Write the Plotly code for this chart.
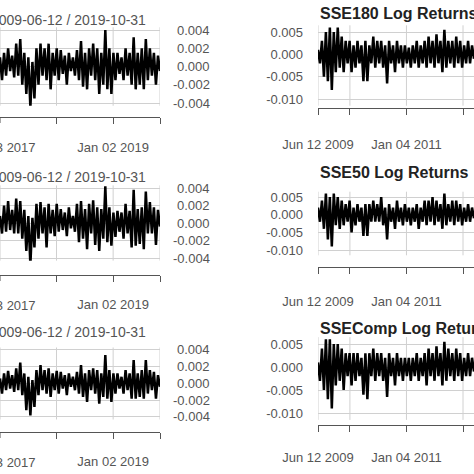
import plotly.graph_objects as go
import pandas as pd

left_title = "2009-06-12 / 2019-10-31"
right_titles = ["SSE180 Log Returns", "SSE50 Log Returns", "SSEComp Log Returns"]
left_yticks = [0.004, 0.002, 0.0, -0.002, -0.004]
left_yticklabels = ["0.004", "0.002", "0.000", "-0.002", "-0.004"]
right_yticks = [0.005, 0.0, -0.005, -0.010]
right_yticklabels = ["0.005", "0.000", "-0.005", "-0.010"]
left_xticks = ["2017-01-03", "2018-01-02", "2019-01-02", "2019-10-31"]
left_xticklabels = ["Jan 03 2017", "", "Jan 02 2019", ""]
right_xticks = ["2009-06-12", "2010-01-04", "2011-01-04", "2012-01-04"]
right_xticklabels = ["Jun 12 2009", "", "Jan 04 2011", ""]

left1 = [0.001,-0.0015,0.0015,-0.001,0.002,-0.0005,0.0012,-0.0012,0.0025,-0.001,0.003,-0.002,0.0015,-0.003,0.001,-0.0045,0.0005,-0.0035,0.002,-0.002,0.0025,-0.001,0.002,-0.0015,0.0025,-0.0025,0.0015,-0.001,0.002,-0.0015,0.0018,-0.0008,0.0012,-0.002,0.0015,-0.0005,0.001,-0.001,0.0018,-0.0015,0.0028,-0.0022,0.0015,-0.0025,0.002,-0.001,0.0025,-0.0015,0.002,-0.003,0.0015,-0.002,0.004,-0.0025,0.002,-0.003,0.0015,-0.0015,0.0015,-0.0008,0.001,-0.0015,0.002,-0.001,0.0015,-0.002,0.0032,-0.0025,0.0015,-0.002,0.002,-0.0025,0.003,-0.0015,0.002,-0.001,0.0015,-0.002,0.0012,-0.0005]
left2 = [0.0008,-0.0012,0.002,-0.001,0.0025,-0.0008,0.0015,-0.0012,0.0028,-0.0012,0.0025,-0.0018,0.0015,-0.0032,0.0008,-0.0048,0.0006,-0.0028,0.0022,-0.0018,0.0024,-0.0012,0.0018,-0.0028,0.0022,-0.0012,0.0015,-0.0015,0.0022,-0.001,0.0016,-0.0008,0.0012,-0.0015,0.0018,-0.0006,0.0008,-0.001,0.0022,-0.0022,0.0025,-0.0018,0.0016,-0.003,0.0022,-0.0012,0.0026,-0.0025,0.0018,-0.0032,0.0016,-0.0018,0.0042,-0.0022,0.0018,-0.0026,0.0012,-0.0016,0.0014,-0.001,0.0012,-0.0018,0.0022,-0.0012,0.0014,-0.0028,0.0038,-0.0026,0.0016,-0.0024,0.0018,-0.003,0.0036,-0.0012,0.0024,-0.0012,0.0018,-0.0025,0.0015,-0.0004]
left3 = [0.0006,-0.0012,0.0012,-0.0008,0.0015,-0.0006,0.001,-0.001,0.0018,-0.0008,0.0025,-0.0014,0.0012,-0.0032,0.0008,-0.0038,0.0004,-0.0028,0.0016,-0.0014,0.0022,-0.0008,0.0016,-0.0012,0.0018,-0.0016,0.0012,-0.0008,0.0015,-0.0012,0.0014,-0.0006,0.001,-0.0014,0.0012,-0.0004,0.0008,-0.0008,0.0014,-0.0012,0.0022,-0.0016,0.0012,-0.0022,0.0016,-0.0008,0.0018,-0.0012,0.0016,-0.0024,0.0012,-0.0016,0.0034,-0.0018,0.0016,-0.0022,0.0012,-0.0012,0.0012,-0.0006,0.0008,-0.0012,0.0016,-0.0008,0.0012,-0.0018,0.0028,-0.0018,0.0012,-0.0016,0.0016,-0.0018,0.0028,-0.0012,0.0016,-0.0008,0.0014,-0.0018,0.001,-0.0004]
right1 = [0.001,-0.002,0.003,-0.005,0.005,-0.006,0.006,-0.008,0.005,-0.004,0.006,-0.003,0.004,-0.004,0.003,-0.002,0.003,-0.004,0.002,-0.003,0.003,-0.002,0.002,-0.006,0.003,-0.006,0.002,-0.002,0.004,-0.003,0.003,-0.002,0.003,-0.003,0.002,-0.0065,0.003,-0.002,0.002,-0.004,0.003,-0.002,0.002,-0.003,0.002,-0.002,0.0015,-0.003,0.002,-0.002,0.003,-0.003,0.002,-0.002,0.003,-0.003,0.004,-0.002,0.003,-0.003,0.0045,-0.002,0.003,-0.004,0.0055,-0.003,0.003,-0.002,0.003,-0.003,0.004,-0.002,0.003,-0.003,0.002,-0.002,0.003,-0.002,0.002,-0.001]
right2 = [0.002,-0.002,0.004,-0.004,0.006,-0.007,0.005,-0.009,0.006,-0.003,0.005,-0.004,0.004,-0.003,0.003,-0.002,0.004,-0.005,0.002,-0.003,0.003,-0.002,0.002,-0.006,0.003,-0.006,0.003,-0.002,0.004,-0.002,0.003,-0.002,0.005,-0.003,0.002,-0.007,0.003,-0.002,0.002,-0.004,0.004,-0.002,0.002,-0.003,0.003,-0.002,0.002,-0.003,0.002,-0.002,0.003,-0.004,0.002,-0.002,0.004,-0.003,0.004,-0.002,0.005,-0.003,0.004,-0.002,0.003,-0.004,0.006,-0.003,0.003,-0.002,0.004,-0.003,0.004,-0.002,0.003,-0.003,0.002,-0.002,0.003,-0.002,0.002,-0.001]
right3 = [0.001,-0.003,0.004,-0.005,0.006,-0.007,0.006,-0.009,0.005,-0.004,0.005,-0.003,0.004,-0.005,0.003,-0.002,0.003,-0.004,0.003,-0.003,0.003,-0.002,0.002,-0.006,0.003,-0.007,0.003,-0.002,0.004,-0.003,0.003,-0.002,0.003,-0.003,0.002,-0.0065,0.003,-0.002,0.002,-0.004,0.003,-0.002,0.002,-0.003,0.002,-0.002,0.002,-0.003,0.002,-0.002,0.003,-0.003,0.002,-0.002,0.003,-0.004,0.004,-0.002,0.003,-0.003,0.0045,-0.002,0.003,-0.004,0.0055,-0.003,0.004,-0.002,0.003,-0.003,0.004,-0.002,0.003,-0.003,0.002,-0.002,0.003,-0.002,0.002,-0.001]

left_series = [left1, left2, left3]
right_series = [right1, right2, right3]
left_start, left_end = "2017-01-03", "2019-10-31"
right_start, right_end = "2009-06-12", "2012-03-15"

H = 474.0
def py(p): return 1 - p / H

GRID = "#d0d0d0"
TXT = "#555555"
FONT = "Liberation Sans, Arial, sans-serif"
FS = 13

fig = go.Figure()
ann = []
left_px = [(30, 103, 117, 20), (188, 258, 275, 177), (350, 417, 432, 332)]
right_px = [(32, 99, 108, 14), (197, 250, 267, 172), (344, 413, 425, 328)]
left_lab = [148, 305, 462]
right_lab = [145, 302, 458]

def names(k):
    s = "" if k == 1 else str(k)
    return "x" + s, "y" + s, "xaxis" + s, "yaxis" + s

k = 0
for i in range(3):
    t, b, ax, tt = left_px[i]
    per = (b - t) / 0.008
    lo, hi = -0.0043, 0.0043
    ytop = t - (hi - 0.004) * per
    ybot = b + (-0.004 - lo) * per
    k += 1
    xa, ya, xk, yk = names(k)
    dates = pd.date_range(left_start, left_end, periods=len(left_series[i]))
    fig.add_trace(go.Scatter(x=dates, y=left_series[i], mode="lines",
                             line=dict(color="black", width=2.5), xaxis=xa, yaxis=ya, showlegend=False))
    fig.layout[xk] = dict(domain=[0, 160 / 474], range=[left_start, left_end], anchor="free",
                          position=py(ax), tickvals=left_xticks[1:], ticktext=left_xticklabels[1:],
                          ticks="outside", ticklen=6, tickcolor="#555", showline=True, linecolor="#555",
                          showgrid=False, tickfont=dict(size=FS, color=TXT, family=FONT),
                          ticklabelstandoff=left_lab[i] - ax - 19, zeroline=False, automargin=False)
    fig.layout[yk] = dict(domain=[py(ybot), py(ytop)], range=[lo, hi], anchor=xa,
                          tickvals=left_yticks, showticklabels=False, showgrid=True,
                          gridcolor=GRID, zeroline=False, showline=False, automargin=False)
    for v in [pd.Timestamp(d) for d in left_xticks]:
        fig.add_shape(type="line", xref=xa, yref=f"{ya} domain", x0=v, x1=v, y0=0, y1=1,
                      line=dict(color=GRID, width=1), layer="below")
    fig.add_shape(type="line", xref=xa, yref="paper", x0=pd.Timestamp(left_xticks[0]), x1=pd.Timestamp(left_xticks[0]),
                  y0=py(ax), y1=py(ax + 6), line=dict(color="#555", width=1))
    ann.append(dict(x=pd.Timestamp(left_xticks[0]), xref=xa, y=py(left_lab[i]), yref="paper",
                    text=left_xticklabels[0], showarrow=False, xanchor="center", yanchor="middle",
                    font=dict(size=FS, color=TXT, family=FONT)))
    for v, s in zip(left_yticks, left_yticklabels):
        ann.append(dict(x=212 / 474, xref="paper", y=v, yref=ya, text=s, showarrow=False,
                        xanchor="right", font=dict(size=FS, color=TXT, family=FONT)))
    ann.append(dict(x=148 / 474, xref="paper", y=py(tt), yref="paper", text=left_title, showarrow=False,
                    xanchor="right", yanchor="middle", font=dict(size=14, color=TXT, family=FONT)))

    t, b, ax, tt = right_px[i]
    per = (b - t) / 0.015
    lo, hi = -0.0115, 0.0065
    ytop = t - (hi - 0.005) * per
    ybot = b + (-0.010 - lo) * per
    k += 1
    xa, ya, xk, yk = names(k)
    dates = pd.date_range(right_start, right_end, periods=len(right_series[i]))
    fig.add_trace(go.Scatter(x=dates, y=right_series[i], mode="lines",
                             line=dict(color="black", width=2.5), xaxis=xa, yaxis=ya, showlegend=False))
    fig.layout[xk] = dict(domain=[318 / 474, 1], range=[right_start, right_end], anchor="free",
                          position=py(ax), tickvals=right_xticks, ticktext=right_xticklabels,
                          ticks="outside", ticklen=6, tickcolor="#555", showline=True, linecolor="#555",
                          showgrid=False, tickfont=dict(size=FS, color=TXT, family=FONT),
                          ticklabelstandoff=right_lab[i] - ax - 19, zeroline=False, automargin=False)
    fig.layout[yk] = dict(domain=[py(ybot), py(ytop)], range=[lo, hi], anchor=xa,
                          tickvals=right_yticks, ticktext=right_yticklabels,
                          tickfont=dict(size=FS, color=TXT, family=FONT), ticklabelstandoff=14,
                          showgrid=True, gridcolor=GRID, zeroline=False, showline=False, automargin=False)
    for v in [pd.Timestamp(d) for d in right_xticks]:
        fig.add_shape(type="line", xref=xa, yref=f"{ya} domain", x0=v, x1=v, y0=0, y1=1,
                      line=dict(color=GRID, width=1), layer="below")
    ann.append(dict(x=318 / 474, xref="paper", y=py(tt), yref="paper", text="<b>" + right_titles[i] + "</b>",
                    showarrow=False, xanchor="left", yanchor="middle",
                    font=dict(size=16, color="#222", family=FONT)))

fig.update_layout(width=474, height=474, margin=dict(l=0, r=0, t=0, b=0),
                  plot_bgcolor="white", paper_bgcolor="white", annotations=ann)
fig.write_html("out.html", config={"displayModeBar": False},
               post_script="document.body.style.margin='0';document.body.style.overflow='hidden';")
